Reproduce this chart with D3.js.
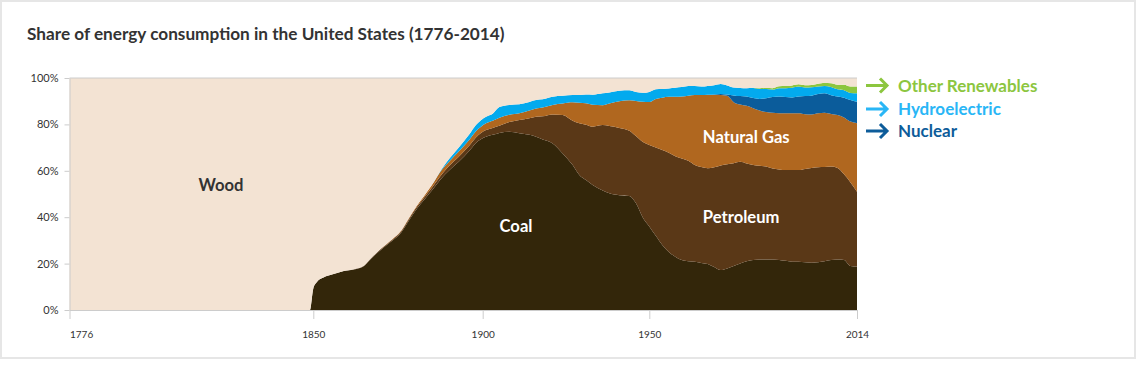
<!DOCTYPE html>
<html>
<head>
<meta charset="utf-8">
<script src="https://cdnjs.cloudflare.com/ajax/libs/d3/7.8.5/d3.min.js"></script>
<style>
  body { margin: 0; background: #fff; font-family: Lato, "Open Sans", sans-serif; }
</style>
</head>
<body>
<div id="chart"></div>
<script>
// shares of total consumption, in %
var years =      [1776, 1849, 1850, 1851, 1853, 1856, 1859, 1862, 1865, 1867, 1870, 1873, 1876, 1878, 1880, 1883, 1885, 1888, 1890, 1893, 1896, 1898, 1901, 1903, 1905, 1908, 1911, 1914, 1916, 1918, 1921, 1924, 1927, 1929, 1931, 1933, 1936, 1938, 1941, 1944, 1946, 1948, 1950, 1952, 1954, 1956, 1958, 1960, 1962, 1964, 1966, 1968, 1970, 1972, 1974, 1976, 1978, 1980, 1982, 1984, 1986, 1988, 1990, 1992, 1994, 1996, 1998, 2000, 2002, 2004, 2006, 2008, 2010, 2012, 2014]
var coal =       [0, 0, 9.3, 12, 14, 15.5, 16.8, 17.5, 19, 22, 26, 29.5, 33.5, 38, 42.5, 48, 51.5, 57, 60, 64, 68.5, 72, 74.7, 75.5, 76.3, 76.8, 76.2, 75.5, 74.7, 73.5, 71.8, 67.5, 62.5, 58.2, 56, 53.9, 51.5, 50.3, 49.5, 49.1, 46, 40, 36, 32, 28, 25, 23, 21.5, 21, 20.8, 20.3, 19.8, 18.5, 17.2, 17.9, 19, 20, 21, 21.5, 21.8, 21.8, 21.8, 21.6, 21.2, 20.8, 20.8, 20.6, 20.4, 20.6, 21, 21.5, 21.8, 21.6, 19, 18.7]
var petroleum =  [0, 0, 0, 0, 0, 0, 0, 0.1, 0.2, 0.3, 0.4, 0.5, 0.6, 0.7, 0.8, 1.0, 1.2, 1.6, 2.0, 2.2, 2.3, 2.4, 2.9, 3.0, 3.1, 4.2, 5.7, 7.2, 8.6, 10, 12.5, 16.5, 19.1, 22.3, 23.8, 25.1, 28.2, 29, 29, 28.2, 29, 32.5, 35.1, 38, 41, 42.8, 43.3, 43.8, 43.3, 41.7, 41.3, 41.3, 43, 45.1, 44.9, 44.3, 43.9, 42.2, 41, 40.4, 40, 39.2, 39, 39.1, 39.5, 39.5, 40.2, 40.8, 40.9, 40.6, 40.3, 39.4, 36.9, 36, 32.3]
var naturalGas = [0, 0, 0, 0, 0, 0, 0, 0, 0, 0, 0.1, 0.2, 0.3, 0.4, 0.5, 0.8, 1.2, 2, 1.8, 2.2, 2.5, 2.6, 2.9, 3.1, 3.5, 3.2, 2.9, 3.3, 3.6, 3.8, 4.1, 5, 7.9, 8.8, 9.3, 9.5, 8.6, 9.7, 11.5, 13.1, 15.1, 17.3, 18.6, 21, 22.5, 24.1, 25.6, 26.7, 28, 30.2, 31.1, 31.6, 31.2, 30.4, 29.5, 26.3, 24.7, 24.8, 24.5, 23.8, 23.5, 24, 24.2, 24.5, 24.5, 24.5, 23.6, 23.1, 23.3, 23.4, 22.7, 22.9, 24.5, 26.2, 29.5]
var nuclear =    [0, 0, 0, 0, 0, 0, 0, 0, 0, 0, 0, 0, 0, 0, 0, 0, 0, 0, 0, 0, 0, 0, 0, 0, 0, 0, 0, 0, 0, 0, 0, 0, 0, 0, 0, 0, 0, 0, 0, 0, 0, 0, 0, 0, 0, 0, 0, 0, 0, 0, 0, 0.1, 0.2, 0.4, 0.6, 2.9, 3.6, 4, 4.4, 5, 6, 6.8, 7.2, 7, 6.8, 7.2, 7.8, 8.1, 8.3, 8.4, 8.1, 7.9, 8.5, 9.3, 9.3]
var hydro =      [0, 0, 0, 0, 0, 0, 0, 0, 0, 0, 0, 0, 0, 0, 0, 0, 0, 0.4, 1.2, 1.8, 2.3, 2.7, 2.8, 3.0, 4.6, 4.2, 3.9, 3.7, 3.6, 3.5, 3.5, 3.3, 3.2, 3.4, 3.8, 4.3, 5.1, 4.8, 4.5, 4.3, 3.9, 3.8, 4.3, 4.2, 3.8, 3.6, 3.9, 4.1, 4.2, 3.9, 3.6, 3.8, 4.0, 4.3, 3.9, 3.4, 3.5, 3.6, 4.3, 4.3, 4, 3.2, 3.6, 3.8, 4.2, 4.3, 3.7, 3.6, 3.2, 3.2, 3.5, 3.1, 3.2, 3.0, 3.6]
var renewables = [0, 0, 0, 0, 0, 0, 0, 0, 0, 0, 0, 0, 0, 0, 0, 0, 0, 0, 0, 0, 0, 0, 0, 0, 0, 0, 0, 0, 0, 0, 0, 0, 0, 0, 0, 0, 0, 0, 0, 0, 0, 0, 0, 0, 0, 0, 0, 0, 0, 0, 0, 0, 0, 0, 0, 0, 0, 0, 0.1, 0.3, 0.4, 0.6, 0.8, 0.9, 1.0, 1.0, 1.0, 1.0, 1.2, 1.4, 1.6, 2.0, 2.4, 2.8, 2.9]
var wood =       [100, 100, 90.7, 88, 86, 84.5, 83.2, 82.4, 80.8, 77.7, 73.5, 69.8, 65.6, 60.9, 56.2, 50.2, 46.1, 39, 35, 29.8, 24.4, 20.3, 16.7, 15.4, 12.5, 11.6, 11.3, 10.3, 9.5, 9.2, 8.1, 7.7, 7.3, 7.3, 7.1, 7.2, 6.6, 6.2, 5.5, 5.3, 6, 6.4, 6, 4.8, 4.7, 4.5, 4.2, 3.9, 3.5, 3.4, 3.7, 3.4, 3.1, 2.6, 3.2, 4.1, 4.3, 4.4, 4.2, 4.4, 4.3, 4.4, 3.6, 3.5, 3.2, 2.7, 3.1, 3.0, 2.5, 2.0, 2.3, 2.9, 2.9, 3.7, 3.7]

var xTicks = [1776, 1850, 1900, 1950, 2014]
var yTicks = [0, 20, 40, 60, 80, 100]

var keys = ["coal", "petroleum", "naturalGas", "nuclear", "hydro", "renewables", "wood"]
var colors = {
  coal: "#33260a", petroleum: "#5a3817", naturalGas: "#b0671f",
  nuclear: "#0b5c9b", hydro: "#03aaee", renewables: "#8cc63f", wood: "#f3e3d3"
}

// area labels, placed in data units
var areaLabels = [
  {text: "Wood", year: 1822, pct: 54, color: "#333", anchor: "middle"},
  {text: "Coal", year: 1910, pct: 36, color: "#fff", anchor: "middle"},
  {text: "Natural Gas", year: 1966.5, pct: 74.6, color: "#fff", anchor: "start"},
  {text: "Petroleum", year: 1966.5, pct: 40.1, color: "#fff", anchor: "start"}
]
var legendItems = [
  {name: "Other Renewables", color: "#8cc63f"},
  {name: "Hydroelectric", color: "#29b6f6"},
  {name: "Nuclear", color: "#0d5c9a"}
]

var width = 1137, height = 369

var svg = d3.select("#chart").append("svg")
  .attr("width", width)
  .attr("height", height)

// card frame
svg.append("rect")
  .attr("x", 1).attr("y", 1)
  .attr("width", 1134).attr("height", 357)
  .attr("fill", "#fff")
  .attr("stroke", "#e6e6e6")
  .attr("stroke-width", 2)

svg.append("text")
  .attr("x", 27).attr("y", 40)
  .attr("font-size", "17.2px")
  .attr("font-weight", "bold")
  .attr("fill", "#333")
  .text("Share of energy consumption in the United States (1776-2014)")

var x = d3.scaleLinear().domain(xTicks).range([69.5, 313.3, 482.7, 649.3, 857])
var y = d3.scaleLinear().domain([0, 100]).range([310, 78])

var rows = years.map(function(yr, i) {
  return {
    year: yr, coal: coal[i], petroleum: petroleum[i], naturalGas: naturalGas[i],
    nuclear: nuclear[i], hydro: hydro[i], renewables: renewables[i], wood: wood[i]
  }
})

var series = d3.stack().keys(keys).offset(d3.stackOffsetExpand)(rows)

// x axis goes under the areas
var xAxis = svg.append("g")
  .attr("transform", "translate(0," + y(0) + ")")
  .call(d3.axisBottom(x).tickValues(xTicks).tickFormat(d3.format("d")).tickSize(9).tickPadding(12).tickSizeOuter(0))
xAxis.select(".domain").attr("stroke", "#ccc")
xAxis.selectAll(".tick line").attr("stroke", "#ccc")
xAxis.selectAll(".tick text")
  .attr("fill", "#333")
  .attr("font-size", "10px")
  .attr("font-family", "Lato, sans-serif")
  .filter(function(d) { return d === 1776 })
  .attr("text-anchor", "start")

var area = d3.area()
  .x(function(d) { return x(d.data.year) })
  .y0(function(d) { return y(d[0] * 100) })
  .y1(function(d) { return y(d[1] * 100) })
  .curve(d3.curveMonotoneX)

svg.append("g").selectAll("path")
  .data(series)
  .enter().append("path")
  .attr("d", area)
  .attr("fill", function(d) { return colors[d.key] })

// 100% line and y axis on top
svg.append("line")
  .attr("x1", x(1776)).attr("x2", x(2014))
  .attr("y1", y(100)).attr("y2", y(100))
  .attr("stroke", "#ccc")

var yAxis = svg.append("g")
  .attr("transform", "translate(" + x(1776) + ",0)")
  .call(d3.axisLeft(y).tickValues(yTicks).tickFormat(function(d) { return d + "%" }).tickSize(5).tickPadding(6).tickSizeOuter(0))
yAxis.select(".domain").attr("stroke", "#ccc")
yAxis.selectAll(".tick line").attr("stroke", "#ccc")
yAxis.selectAll(".tick text")
  .attr("fill", "#333")
  .attr("font-size", "11px")
  .attr("font-family", "Lato, sans-serif")

svg.append("g").selectAll("text")
  .data(areaLabels)
  .enter().append("text")
  .attr("x", function(d) { return x(d.year) })
  .attr("y", function(d) { return y(d.pct) })
  .attr("dy", "0.35em")
  .attr("text-anchor", function(d) { return d.anchor })
  .attr("font-size", "16.6px")
  .attr("font-weight", "bold")
  .attr("fill", function(d) { return d.color })
  .text(function(d) { return d.text })

// legend with arrows
var legend = svg.append("g").selectAll("g")
  .data(legendItems)
  .enter().append("g")
  .attr("transform", function(d, i) { return "translate(866," + [85.5, 109, 131][i] + ")" })

legend.append("path")
  .attr("d", "M0,0H21M14,-7L21,0L14,7")
  .attr("fill", "none")
  .attr("stroke", function(d) { return d.color })
  .attr("stroke-width", 3)

legend.append("text")
  .attr("x", 32)
  .attr("dy", "0.36em")
  .attr("font-size", "17px")
  .attr("font-weight", "bold")
  .attr("fill", function(d) { return d.color })
  .text(function(d) { return d.name })
</script>
</body>
</html>
